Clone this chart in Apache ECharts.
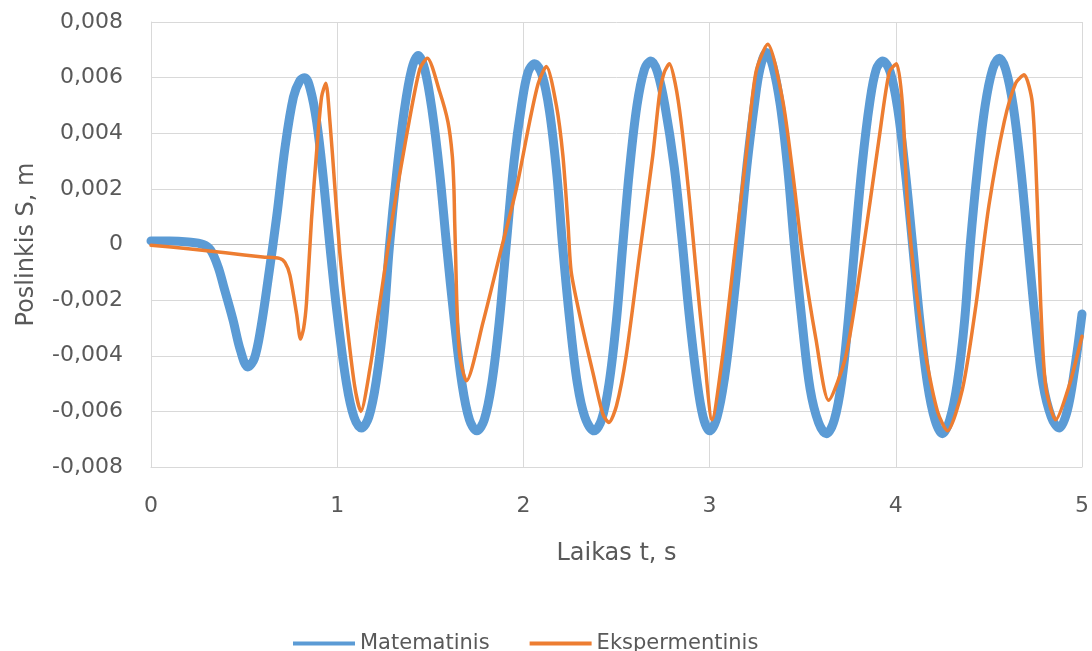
<!DOCTYPE html>
<html>
<head>
<meta charset="utf-8">
<script src="https://cdn.jsdelivr.net/npm/echarts@6/dist/echarts.min.js"></script>
<style>html,body{margin:0;padding:0;background:#fff}#c{width:1092px;height:651px}</style>
</head>
<body>
<div id="c"></div>
<script>
const seriesNames = ['Matematinis', 'Ekspermentinis'];
const xAxisTitle = 'Laikas t, s';
const yAxisTitle = 'Poslinkis S, m';
const xTickValues = [0, 1, 2, 3, 4, 5];
const yTickValues = [-0.008, -0.006, -0.004, -0.002, 0, 0.002, 0.004, 0.006, 0.008];

const matematinisT = [0.00,0.10,0.20,0.28,0.32,0.36,0.39,0.44,0.48,0.52,0.555,0.59,0.63,0.675,0.72,0.765,0.80,0.826,0.855,0.89,0.925,0.96,1.00,1.05,1.09,1.13,1.17,1.21,1.25,1.28,1.32,1.36,1.40,1.435,1.47,1.51,1.55,1.587,1.63,1.67,1.71,1.75,1.79,1.83,1.87,1.908,1.95,1.99,2.025,2.06,2.10,2.14,2.18,2.21,2.25,2.29,2.33,2.38,2.42,2.46,2.50,2.534,2.57,2.61,2.65,2.685,2.72,2.76,2.81,2.85,2.89,2.93,2.965,3.00,3.04,3.08,3.12,3.16,3.20,3.24,3.27,3.305,3.34,3.38,3.42,3.455,3.50,3.54,3.585,3.627,3.67,3.71,3.745,3.78,3.82,3.86,3.895,3.93,3.97,4.01,4.05,4.09,4.13,4.17,4.21,4.25,4.29,4.33,4.37,4.40,4.44,4.48,4.52,4.556,4.59,4.63,4.67,4.71,4.75,4.79,4.835,4.877,4.92,4.96,5.00];
const matematinisS = [0.00013,0.00013,0.00009,0.0000,-0.0002,-0.0008,-0.0015,-0.0027,-0.0038,-0.0044,-0.0041,-0.0030,-0.0012,0.0010,0.0035,0.0053,0.0059,0.0060,0.0056,0.0044,0.0024,0.0000,-0.0025,-0.0050,-0.0062,-0.0066,-0.0062,-0.0049,-0.0027,-0.0001,0.0026,0.0048,0.0063,0.0068,0.0063,0.0048,0.0026,0.0000,-0.0028,-0.0050,-0.0063,-0.0067,-0.0063,-0.0050,-0.0028,0.0000,0.0030,0.0050,0.0062,0.0065,0.0061,0.0048,0.0025,0.0000,-0.0028,-0.0050,-0.0062,-0.0067,-0.0063,-0.0050,-0.0027,0.0000,0.0027,0.0050,0.0063,0.0066,0.0062,0.0050,0.0028,0.0003,-0.0025,-0.0048,-0.0062,-0.0067,-0.0062,-0.0048,-0.0026,0.0000,0.0028,0.0050,0.0063,0.0069,0.0064,0.0050,0.0027,0.0000,-0.0030,-0.0052,-0.0064,-0.0068,-0.0063,-0.0049,-0.0027,0.0000,0.0029,0.0051,0.0063,0.0066,0.0062,0.0049,0.0027,0.0000,-0.0028,-0.0050,-0.0063,-0.0068,-0.0063,-0.0050,-0.0027,0.0000,0.0028,0.0050,0.0063,0.0067,0.0063,0.0050,0.0028,0.0000,-0.0028,-0.0050,-0.0062,-0.0066,-0.0060,-0.0045,-0.0025];

const eksperT = [0.00,0.20,0.40,0.60,0.69,0.72,0.746,0.782,0.803,0.82,0.835,0.862,0.889,0.916,0.939,0.96,0.987,1.014,1.05,1.094,1.127,1.175,1.229,1.30,1.372,1.443,1.484,1.55,1.595,1.618,1.627,1.631,1.636,1.643,1.658,1.694,1.783,1.872,1.962,2.033,2.08,2.123,2.177,2.212,2.239,2.257,2.311,2.373,2.427,2.459,2.50,2.552,2.623,2.695,2.731,2.757,2.784,2.815,2.847,2.892,2.928,2.972,3.013,3.070,3.133,3.196,3.249,3.312,3.392,3.446,3.50,3.571,3.639,3.732,3.82,3.91,3.965,4.004,4.036,4.063,4.108,4.161,4.224,4.277,4.358,4.43,4.50,4.582,4.644,4.689,4.733,4.76,4.778,4.805,4.859,4.93,5.00];
const eksperS = [-0.00003,-0.00015,-0.0003,-0.00045,-0.0005,-0.00065,-0.0011,-0.0025,-0.0034,-0.0030,-0.0021,0.0009,0.0033,0.0053,0.0058,0.0045,0.0021,-0.0003,-0.0027,-0.0051,-0.0060,-0.0045,-0.0021,0.0011,0.0039,0.0063,0.0067,0.0055,0.0044,0.0032,0.0020,0.0008,-0.0004,-0.0022,-0.0040,-0.0049,-0.0028,-0.0004,0.0020,0.0044,0.0058,0.0064,0.0050,0.0032,0.0008,-0.0010,-0.0028,-0.0046,-0.0061,-0.0064,-0.0058,-0.0040,-0.0004,0.0032,0.0054,0.0062,0.0065,0.0058,0.0044,0.0016,-0.0010,-0.0040,-0.0063,-0.0040,-0.0004,0.0032,0.0062,0.0072,0.0052,0.0026,-0.0004,-0.0034,-0.0056,-0.0040,-0.0004,0.0038,0.0062,0.0065,0.0050,0.0014,-0.0016,-0.0040,-0.0060,-0.0067,-0.0052,-0.0022,0.0014,0.0044,0.0058,0.0061,0.0051,0.0015,-0.0021,-0.0051,-0.0063,-0.0051,-0.0033];

function pairs(ts, vs) { return ts.map((t, i) => [t, vs[i]]); }
function fmt(v) {
  if (Math.abs(v) < 1e-12) return '0';
  return v.toFixed(3).replace('.', ',');
}

const FONT = 'DejaVu Sans';
const TXT = '#595959';
const chart = echarts.init(document.getElementById('c'), null, { renderer: 'canvas' });
chart.setOption({
  animation: false,
  backgroundColor: '#ffffff',
  grid: { left: 151, right: 9, top: 22, bottom: 184, containLabel: false },
  legend: {
    data: seriesNames,
    left: 288,
    top: 628,
    icon: 'rect',
    itemWidth: 62,
    itemHeight: 4,
    itemGap: 40,
    textStyle: { fontFamily: FONT, fontSize: 21, color: TXT }
  },
  xAxis: {
    type: 'value',
    min: xTickValues[0],
    max: xTickValues[xTickValues.length - 1],
    interval: 1,
    name: xAxisTitle,
    nameLocation: 'middle',
    nameGap: 75,
    nameTextStyle: { fontFamily: FONT, fontSize: 24, color: TXT },
    axisLine: { show: true, onZero: false, lineStyle: { color: '#D9D9D9', width: 1 } },
    axisTick: { show: false },
    axisLabel: { margin: 28, fontFamily: FONT, fontSize: 22, color: TXT, formatter: v => String(v) },
    splitLine: { show: true, lineStyle: { color: '#D9D9D9', width: 1 } }
  },
  yAxis: {
    type: 'value',
    min: yTickValues[0],
    max: yTickValues[yTickValues.length - 1],
    interval: 0.002,
    name: yAxisTitle,
    nameLocation: 'middle',
    nameGap: 112,
    nameRotate: 90,
    nameTextStyle: { fontFamily: FONT, fontSize: 24, color: TXT },
    axisLine: { show: true, lineStyle: { color: '#D9D9D9', width: 1 } },
    axisTick: { show: false },
    axisLabel: { margin: 28, fontFamily: FONT, fontSize: 22, color: TXT, formatter: fmt },
    splitLine: { show: true, lineStyle: { color: '#D9D9D9', width: 1 } }
  },
  series: [
    {
      name: seriesNames[0],
      type: 'line',
      data: pairs(matematinisT, matematinisS),
      showSymbol: false,
      smooth: 0.35,
      color: '#5B9BD5',
      lineStyle: { color: '#5B9BD5', width: 9, join: 'round', cap: 'round' },
      z: 2,
      markLine: {
        silent: true, symbol: 'none', label: { show: false },
        lineStyle: { color: '#BFBFBF', width: 1, type: 'solid' },
        data: [{ yAxis: 0 }],
        z: 1
      }
    },
    {
      name: seriesNames[1],
      type: 'line',
      data: pairs(eksperT, eksperS),
      showSymbol: false,
      smooth: 0.25,
      color: '#ED7D31',
      lineStyle: { color: '#ED7D31', width: 3.5, join: 'round', cap: 'round' },
      z: 3
    }
  ]
});
</script>
</body>
</html>
